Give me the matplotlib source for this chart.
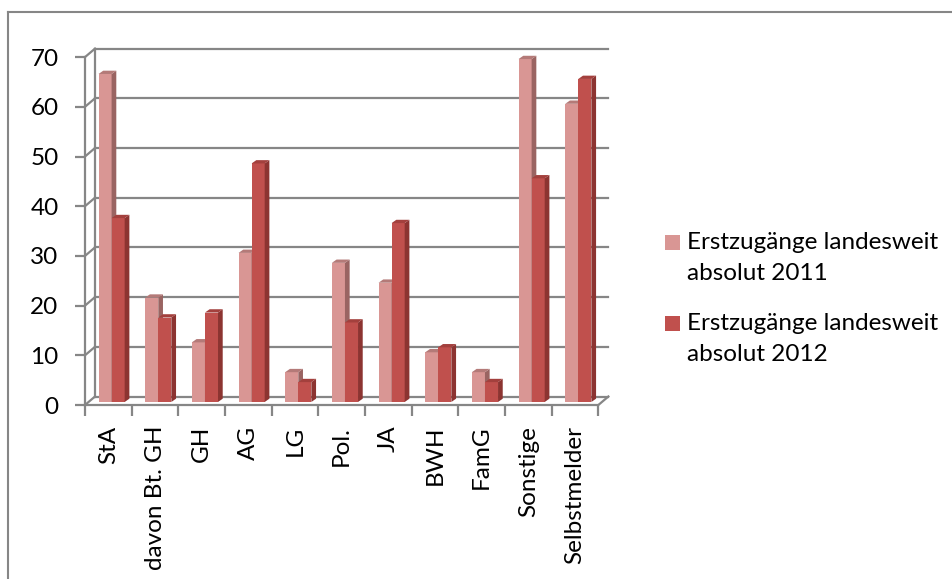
import numpy as np
import matplotlib.pyplot as plt
from matplotlib.patches import Polygon, Rectangle
from matplotlib.lines import Line2D

#%% data
categories = ['StA', 'davon Bt. GH', 'GH', 'AG', 'LG', 'Pol.', 'JA', 'BWH', 'FamG', 'Sonstige', 'Selbstmelder']
werte_2011 = [66, 21, 12, 30, 6, 28, 24, 10, 6, 69, 60]
werte_2012 = [37, 17, 18, 48, 4, 16, 36, 11, 4, 45, 65]
labels = ['Erstzugänge landesweit\nabsolut 2011', 'Erstzugänge landesweit\nabsolut 2012']
yticks = [0, 10, 20, 30, 40, 50, 60, 70]

#%% styles
plt.rcParams['font.family'] = ['Lato', 'DejaVu Sans']
c_front = ['#D99694', '#C0504D']
c_side = ['#9A6462', '#8C3431']
c_top = ['#B47A78', '#A3403D']
gridc = '#868686'
fs = 17.5

W, H = 953, 579
fig = plt.figure(figsize=(W / 100, H / 100), dpi=100)

# pixel geometry of plot area
px0, py0 = 85, 405          # front origin
pxcat = 46.67               # px per category
pyval = 4.97                # px per unit
xr = 613
ytop = 40
ax = fig.add_axes([px0 / W, (H - py0) / H, (xr - px0) / W, (py0 - ytop) / H])
ax.set_xlim(0, (xr - px0) / pxcat)
ax.set_ylim(0, (py0 - ytop) / pyval)

n = len(categories)
# depth of back wall and of the bars (data units)
wdx, wdy = 10 / pxcat, 8.5 / pyval
bdx, bdy = 4.7 / pxcat, 3.3 / pyval
base = 3 / pyval
bw = 0.28
offs = [0.29, 0.57]

# back wall grid + left connectors
for v in yticks:
    ax.plot([wdx, n + wdx], [v + wdy, v + wdy], color=gridc, lw=1.6, clip_on=False, zorder=1)
    ax.plot([0, wdx], [v, v + wdy], color=gridc, lw=1.6, clip_on=False, zorder=1)
ax.plot([wdx, wdx], [wdy, yticks[-1] + wdy], color=gridc, lw=1.6, clip_on=False, zorder=1)
ax.plot([n, n + wdx], [0, wdy], color=gridc, lw=1.6, clip_on=False, zorder=1)

# 3D bars
for s, vals in enumerate([werte_2011, werte_2012]):
    x = np.arange(n) + offs[s]
    ax.bar(x, vals, width=bw, bottom=base, align='edge', color=c_front[s], zorder=2 + s)
    for xi, v in zip(x, vals):
        t = base + v
        side = [(xi + bw, base), (xi + bw + bdx, base + bdy), (xi + bw + bdx, t + bdy), (xi + bw, t)]
        top = [(xi, t), (xi + bdx, t + bdy), (xi + bw + bdx, t + bdy), (xi + bw, t)]
        ax.add_patch(Polygon(side, closed=True, fc=c_side[s], ec='none', zorder=2 + s))
        ax.add_patch(Polygon(top, closed=True, fc=c_top[s], ec='none', zorder=2 + s))

# axes: front spines
for sp in ['top', 'right']:
    ax.spines[sp].set_visible(False)
ax.spines['left'].set_bounds(0, yticks[-1])
ax.spines['bottom'].set_bounds(0, n)
for sp in ['left', 'bottom']:
    ax.spines[sp].set_color(gridc)
    ax.spines[sp].set_linewidth(1.6)
ax.set_facecolor('none')
ax.set_yticks(yticks)
ax.tick_params(axis='y', length=7, width=1.6, color=gridc, labelsize=fs, pad=12)
ax.set_xticks(np.arange(n + 1))
ax.set_xticklabels([])
ax.set_xticks(np.arange(n) + 0.5, minor=True)
ax.set_xticklabels(categories, minor=True, rotation=90, va='top', ha='center')
ax.tick_params(axis='x', which='major', length=8, width=1.6, color=gridc)
ax.tick_params(axis='x', which='minor', length=0, labelsize=fs, pad=15)

# legend drawn by hand
for s in range(2):
    ytop_px = 235 + s * 81
    fig.add_artist(Rectangle((665 / W, 1 - (ytop_px + 15) / H), 15 / W, 15 / H,
                             transform=fig.transFigure, fc=c_front[s], ec='none'))
    fig.text(687 / W, 1 - (ytop_px - 3) / H, labels[s], fontsize=fs, va='top', ha='left',
             linespacing=1.6)

# chart border (cut by the image edge)
fig.add_artist(Line2D([8 / W, 1.0], [1 - 12 / H, 1 - 12 / H], color=gridc, lw=1.5, transform=fig.transFigure))
fig.add_artist(Line2D([8 / W, 8 / W], [0, 1 - 12 / H], color=gridc, lw=1.5, transform=fig.transFigure))

fig.savefig('out.png', dpi=100)
